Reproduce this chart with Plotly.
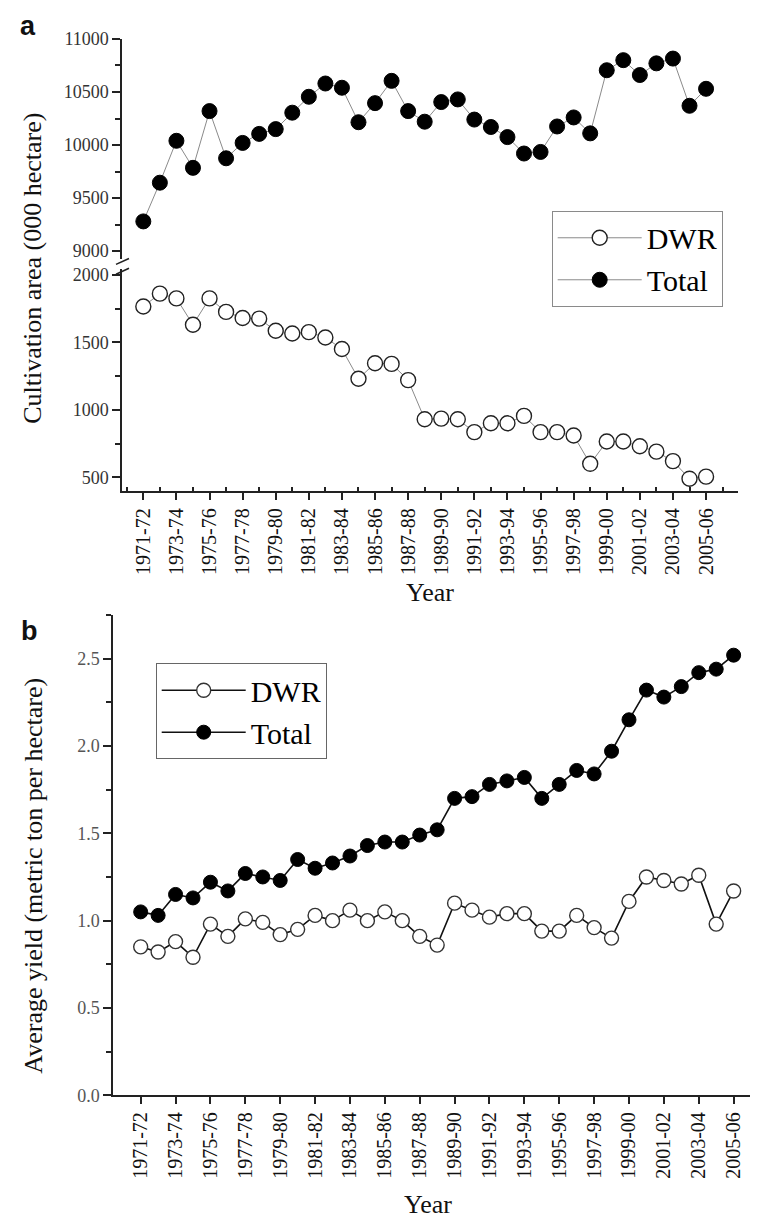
import plotly.graph_objects as go

# ---------------- data ----------------
years = ["1971-72", "1972-73", "1973-74", "1974-75", "1975-76", "1976-77", "1977-78",
         "1978-79", "1979-80", "1980-81", "1981-82", "1982-83", "1983-84", "1984-85",
         "1985-86", "1986-87", "1987-88", "1988-89", "1989-90", "1990-91", "1991-92",
         "1992-93", "1993-94", "1994-95", "1995-96", "1996-97", "1997-98", "1998-99",
         "1999-00", "2000-01", "2001-02", "2002-03", "2003-04", "2004-05", "2005-06"]

area_dwr = [1765, 1860, 1825, 1630, 1825, 1725, 1680, 1675, 1585, 1565, 1575, 1535,
            1450, 1230, 1345, 1340, 1220, 930, 935, 930, 835, 900, 900, 955, 835, 835,
            810, 600, 765, 765, 730, 690, 620, 490, 505]
area_total = [9280, 9645, 10040, 9785, 10320, 9875, 10020, 10105, 10150, 10305, 10455,
              10580, 10540, 10215, 10395, 10605, 10320, 10220, 10405, 10430, 10240,
              10170, 10075, 9920, 9935, 10175, 10260, 10110, 10705, 10800, 10660, 10770,
              10815, 10370, 10530]
yield_dwr = [0.85, 0.82, 0.88, 0.79, 0.98, 0.91, 1.01, 0.99, 0.92, 0.95, 1.03, 1.00,
             1.06, 1.00, 1.05, 1.00, 0.91, 0.86, 1.10, 1.06, 1.02, 1.04, 1.04, 0.94,
             0.94, 1.03, 0.96, 0.90, 1.11, 1.25, 1.23, 1.21, 1.26, 0.98, 1.17]
yield_total = [1.05, 1.03, 1.15, 1.13, 1.22, 1.17, 1.27, 1.25, 1.23, 1.35, 1.30, 1.33,
               1.37, 1.43, 1.45, 1.45, 1.49, 1.52, 1.70, 1.71, 1.78, 1.80, 1.82, 1.70,
               1.78, 1.86, 1.84, 1.97, 2.15, 2.32, 2.28, 2.34, 2.42, 2.44, 2.52]

# x position of each season = its starting year
xs = [int(y[:4]) for y in years]
tick_vals = xs[::2]
tick_text = years[::2]

OFF = 8                    # default margin of the html body
W, H = 758 - 2 * OFF, 1231 - 2 * OFF
SERIF = "Liberation Serif"
SANS = "Liberation Sans"


def px(x):
    return (x - OFF) / W


def py(y):
    return 1 - (y - OFF) / H


fig = go.Figure()

# ---- panel a ----
line_a = dict(color="#8a8a8a", width=1)
fig.add_trace(go.Scatter(x=xs, y=area_dwr, mode="lines+markers", name="DWR",
                         xaxis="x", yaxis="y2", line=line_a, legend="legend",
                         marker=dict(symbol="circle", size=15, color="white",
                                     line=dict(color="#222", width=1.4))))
fig.add_trace(go.Scatter(x=xs, y=area_total, mode="lines+markers", name="Total",
                         xaxis="x", yaxis="y", line=line_a, legend="legend",
                         marker=dict(symbol="circle", size=15, color="black",
                                     line=dict(color="black", width=1))))

# ---- panel b ----
line_b = dict(color="#111", width=1.6)
fig.add_trace(go.Scatter(x=xs, y=yield_dwr, mode="lines+markers", name="DWR",
                         xaxis="x2", yaxis="y3", line=line_b, legend="legend2",
                         marker=dict(symbol="circle", size=14, color="white",
                                     line=dict(color="#333", width=1.4))))
fig.add_trace(go.Scatter(x=xs, y=yield_total, mode="lines+markers", name="Total",
                         xaxis="x2", yaxis="y3", line=line_b, legend="legend2",
                         marker=dict(symbol="circle", size=14, color="black",
                                     line=dict(color="black", width=1))))

axis_col = "#222"
tickfont_y = dict(family=SERIF, size=18, color="#333")
tickfont_x = dict(family=SERIF, size=20, color="#111")

fig.update_layout(
    width=W, height=H,
    margin=dict(l=0, r=0, t=0, b=0),
    paper_bgcolor="white", plot_bgcolor="white",
    xaxis=dict(domain=[px(122.3), px(738)], range=[1969.73, 2006.93], anchor="y2",
               showgrid=False, zeroline=False, showline=True, linecolor=axis_col,
               linewidth=1.8, tickmode="array", tickvals=tick_vals, ticktext=tick_text,
               tickangle=-90, ticks="outside", ticklen=7, tickwidth=1.5,
               tickcolor=axis_col, tickfont=tickfont_x,
               minor=dict(tickmode="linear", tick0=1970, dtick=2, ticks="inside",
                          ticklen=4, tickwidth=1.5, tickcolor=axis_col, showgrid=False)),
    yaxis=dict(domain=[py(253), py(29.3)], range=[8926, 11000], anchor="x",
               showgrid=False, zeroline=False, showline=True, linecolor=axis_col,
               linewidth=1.8, tickmode="linear", tick0=9000, dtick=500, tickformat="d",
               ticks="outside", ticklen=8, tickwidth=1.5, tickcolor=axis_col,
               tickfont=tickfont_y,
               minor=dict(tick0=9000, dtick=250, ticks="outside", ticklen=5,
                          tickwidth=1.5, tickcolor=axis_col, showgrid=False)),
    yaxis2=dict(domain=[py(489.3), py(263)], range=[396, 2044], anchor="x",
                showgrid=False, zeroline=False, showline=True, linecolor=axis_col,
                linewidth=1.8, tickmode="linear", tick0=500, dtick=500, tickformat="d",
                ticks="outside", ticklen=8, tickwidth=1.5, tickcolor=axis_col,
                tickfont=tickfont_y,
                minor=dict(tick0=500, dtick=250, ticks="outside", ticklen=5,
                           tickwidth=1.5, tickcolor=axis_col, showgrid=False)),
    xaxis2=dict(domain=[px(113.3), px(749.5)], range=[1969.43, 2005.91], anchor="y3",
                showgrid=False, zeroline=False, showline=True, linecolor=axis_col,
                linewidth=1.8, tickmode="array", tickvals=tick_vals, ticktext=tick_text,
                tickangle=-90, ticks="outside", ticklen=7, tickwidth=1.5,
                tickcolor=axis_col, tickfont=tickfont_x),
    yaxis3=dict(domain=[py(1103.3), py(615)], range=[0, 2.75], anchor="x2",
                showgrid=False, zeroline=False, showline=True, linecolor=axis_col,
                linewidth=1.8, tickmode="linear", tick0=0, dtick=0.5, tickformat=".1f",
                ticks="outside", ticklen=8, tickwidth=1.5, tickcolor=axis_col,
                tickfont=dict(family=SERIF, size=18, color="#555"),
                minor=dict(tick0=0, dtick=0.25, ticks="outside", ticklen=5,
                           tickwidth=1.5, tickcolor=axis_col, showgrid=False)),
    legend=dict(x=px(551.7), y=py(204), xanchor="left", yanchor="top",
                bgcolor="white", bordercolor="#8a8a8a", borderwidth=1,
                font=dict(family=SERIF, size=30, color="black"),
                itemwidth=84, tracegroupgap=0),
    legend2=dict(x=px(155.7), y=py(664), xanchor="left", yanchor="top",
                 bgcolor="white", bordercolor="#666", borderwidth=1,
                 font=dict(family=SERIF, size=30, color="black"),
                 itemwidth=84, tracegroupgap=0),
    showlegend=True,
)


def note(text, x, y, size, family=SERIF, angle=0):
    return dict(text=text, x=px(x), y=py(y), xref="paper", yref="paper",
                xanchor="center", yanchor="middle", showarrow=False,
                textangle=angle, font=dict(family=family, size=size, color="#111"))


ann = [
    note("Cultivation area (000 hectare)", 33, 263, 26, angle=-90),
    note("Average yield (metric ton per hectare)", 34, 880, 26, angle=-90),
    note("Year", 430, 592, 26),
    note("Year", 428, 1214, 26),
    note("<b>a</b>", 28, 16, 27, family=SANS),
    note("<b>b</b>", 29, 631, 27, family=SANS),
]
fig.update_layout(annotations=ann)

# axis-break marks
shapes = []
for yb in (256, 266):
    shapes.append(dict(type="line", xref="paper", yref="paper",
                       x0=px(116), y0=py(yb + 2.5), x1=px(129), y1=py(yb - 3.5),
                       line=dict(color=axis_col, width=1.6)))
fig.update_layout(shapes=shapes)

fig.write_html("out.html")
